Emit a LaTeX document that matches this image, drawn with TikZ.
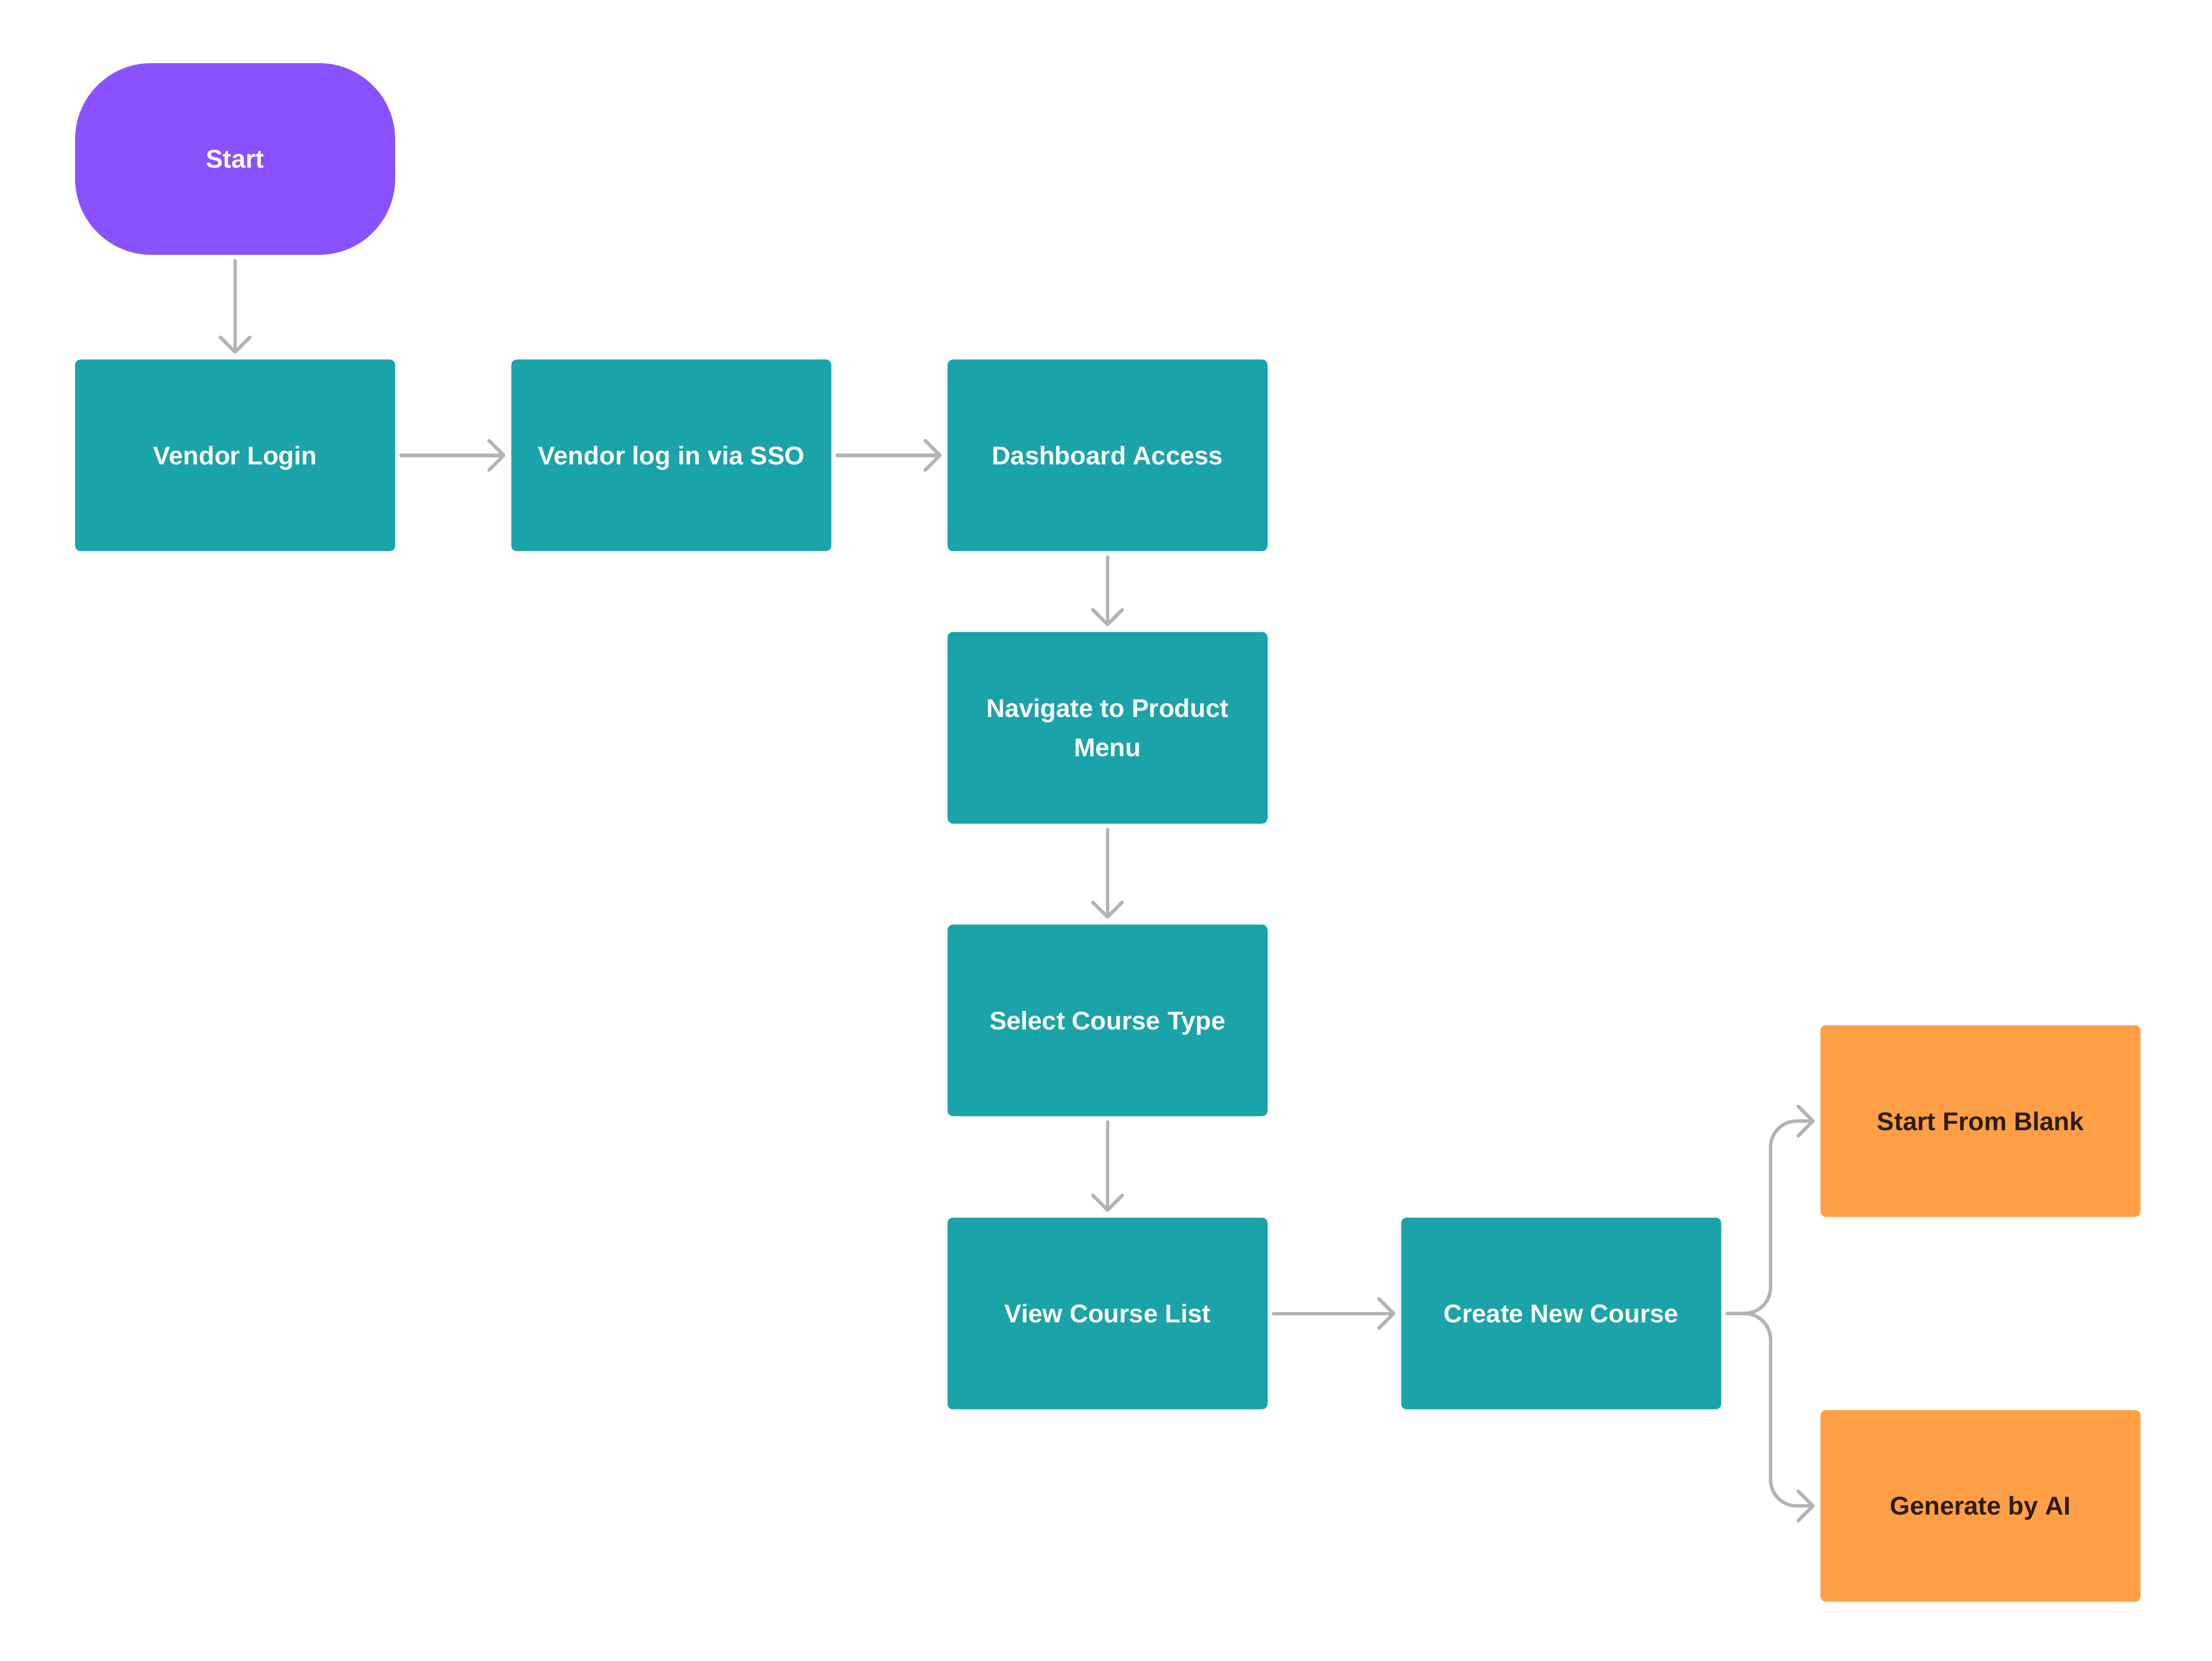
\documentclass[tikz,border=0pt]{standalone}
\usepackage{fontspec}
\setmainfont{Liberation Sans}
\usetikzlibrary{positioning,calc}
\usetikzlibrary{arrows.meta}
\definecolor{flowteal}{HTML}{1AA3A8}
\definecolor{flowpurple}{HTML}{8A52FF}
\definecolor{floworange}{HTML}{FF9F45}
\definecolor{flowgray}{HTML}{B3B3B3}
\definecolor{flowbrown}{HTML}{2D1C0F}

\begin{document}
\begin{tikzpicture}[
         box/.style = {rectangle, rounded corners=0.1cm, minimum width=5.88cm,
         minimum height=3.52cm, inner sep=0pt, align=center,
         text height=9.6pt, text depth=0pt,
         font=\bfseries\fontsize{13.4}{20.5}\selectfont},
         twoline/.style = {text height=, text depth=},
         process/.style = {box, fill=flowteal, text=white},
         terminal/.style = {box, fill=flowpurple, text=white, rounded corners=1.4cm},
         option/.style = {box, fill=floworange, text=flowbrown},
         link/.style = {draw=flowgray, line width=1.8pt, line cap=round,
         shorten <=0.1cm, shorten >=0.1cm,
         -{Straight Barb[round,length=0.27cm,width=0.54cm]}}
]
   \useasboundingbox (0,0) rectangle (40.64,-30.5);

   \node[terminal] (s0) at (4.32,-2.92) {Start};

   % login steps
   \node[process, below=1.91cm of s0] (n1) {Vendor Login};
   \node[process, right=2.12cm of n1] (n2) {Vendor log in via SSO};
   \node[process, right=2.12cm of n2] (n3) {Dashboard Access};

   % course menu
   \node[process, twoline, below=1.47cm of n3] (m1) {Navigate to Product\\Menu};
   \node[process, below=1.84cm of m1] (m2) {Select Course Type};
   \node[process, below=1.85cm of m2] (m3) {View Course List};
   \node[process, right=2.44cm of m3] (c0) {Create New Course};

   % create options
   \node[option, above right=0cm and 1.81cm of c0] (c1) {Start From Blank};
   \node[option, below right=0cm and 1.81cm of c0] (c2) {Generate by AI};
   \coordinate[right=0.9cm of c0] (f0);

   \draw[link] (s0) -- (n1);
   \draw[link] (n1) -- (n2);
   \draw[link] (n2) -- (n3);
   \draw[link] (n3) -- (m1);
   \draw[link] (m1) -- (m2);
   \draw[link] (m2) -- (m3);
   \draw[link] (m3) -- (c0);

   % fork
   \draw[link, rounded corners=0.48cm] (c0.east) -- (f0) |- (c1.west);
   \draw[link, rounded corners=0.48cm] (c0.east) -- (f0) |- (c2.west);
\end{tikzpicture}
\end{document}
